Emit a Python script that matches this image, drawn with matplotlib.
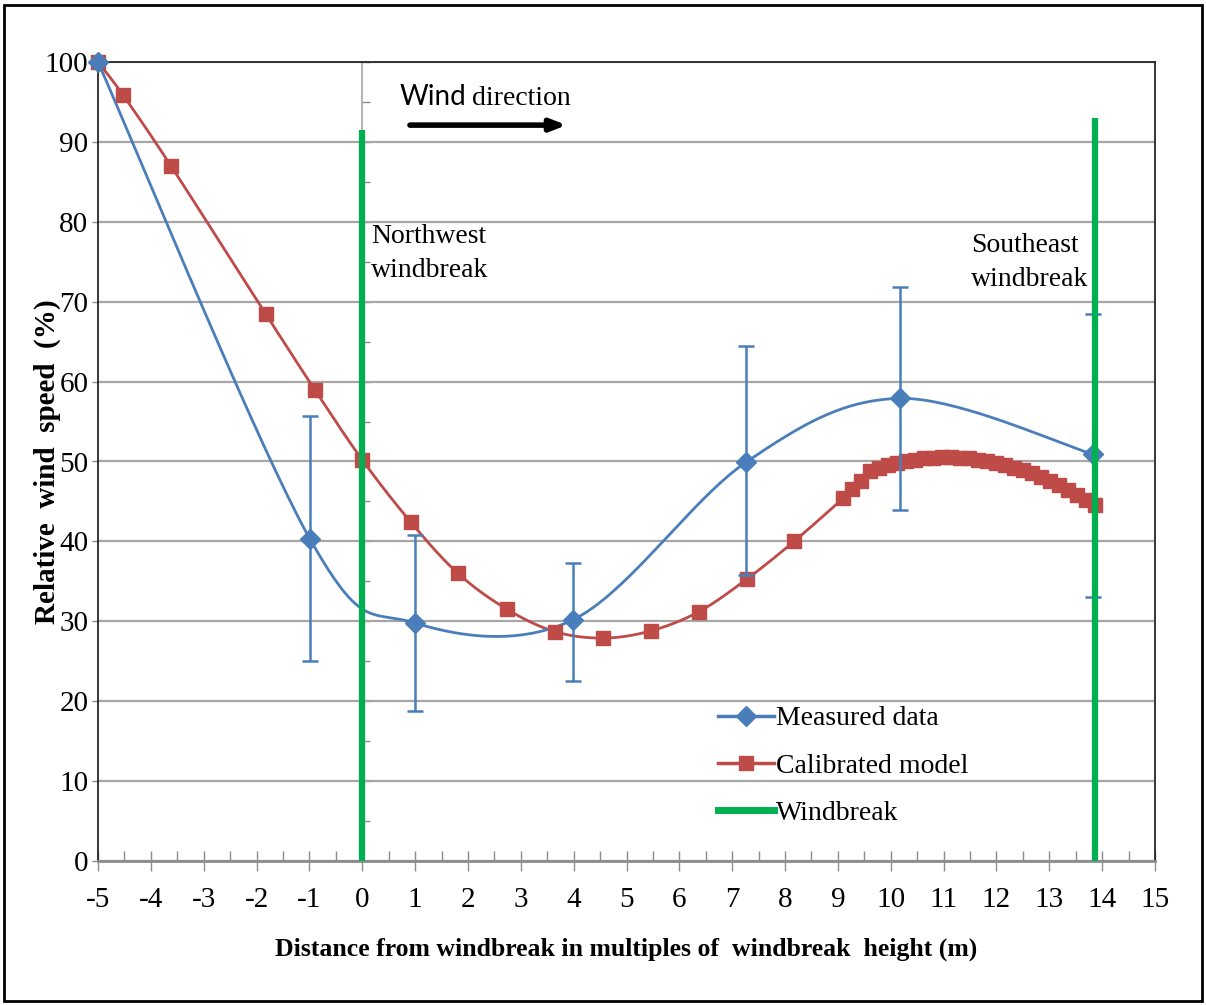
import matplotlib
matplotlib.use('Agg')
import matplotlib.pyplot as plt
import numpy as np
from matplotlib.lines import Line2D
from matplotlib.patches import Rectangle
from matplotlib.ticker import MultipleLocator

# Field measurements (mean relative wind speed with min/max spread)
MEASURED_X = [-5.0, -0.99, 0.99, 3.99, 7.26, 10.17, 13.83]
MEASURED_Y = [100.0, 40.3, 29.8, 30.2, 49.9, 57.9, 50.9]
MEASURED_LOW = [100.0, 25.0, 18.8, 22.5, 35.8, 43.9, 33.0]
MEASURED_HIGH = [100.0, 55.7, 40.8, 37.3, 64.5, 71.8, 68.5]

# Calibrated model output
MODEL_X = [-5.0, -4.53, -3.62, -1.82, -0.89, 0.0, 0.92, 1.81, 2.74, 3.65,
           4.56, 5.46, 6.37, 7.28, 8.17, 9.10, 9.27, 9.44, 9.61, 9.78,
           9.95, 10.12, 10.29, 10.46, 10.63, 10.80, 10.97, 11.14, 11.31, 11.48,
           11.65, 11.82, 11.99, 12.16, 12.33, 12.50, 12.67, 12.84, 13.01, 13.18,
           13.35, 13.52, 13.69, 13.86]
MODEL_Y = [100.0, 95.9, 87.0, 68.4, 58.9, 50.2, 42.4, 36.0, 31.5, 28.7,
           27.9, 28.8, 31.2, 35.3, 40.0, 45.4, 46.5, 47.6, 48.8, 49.2,
           49.5, 49.8, 50.0, 50.2, 50.4, 50.5, 50.6, 50.6, 50.5, 50.4,
           50.2, 50.0, 49.8, 49.5, 49.2, 48.9, 48.5, 48.0, 47.5, 47.0,
           46.4, 45.8, 45.2, 44.6]

# Windbreak positions and drawn heights
WINDBREAK_X = [0.0, 13.86]
WINDBREAK_TOP = [91.5, 93.0]

BLUE = '#4A7EBB'
RED = '#BE4B48'
GREEN = '#00B050'
SERIF = 'Liberation Serif'


def smooth(xs, ys, steps=40):
    # Catmull-Rom style Bezier smoothing, like a spreadsheet "smoothed line"
    p = np.column_stack([xs, ys]).astype(float)
    p = np.vstack([p[0], p, p[-1]])
    t = np.linspace(0, 1, steps)[:, None]
    out = []
    for i in range(1, len(p) - 2):
        p0, p1, p2, p3 = p[i - 1], p[i], p[i + 1], p[i + 2]
        c1 = p1 + (p2 - p0) / 6
        c2 = p2 - (p3 - p1) / 6
        seg = ((1 - t) ** 3 * p1 + 3 * (1 - t) ** 2 * t * c1
               + 3 * (1 - t) * t ** 2 * c2 + t ** 3 * p2)
        out.append(seg if i == 1 else seg[1:])
    out = np.vstack(out)
    return out[:, 0], out[:, 1]


plt.rcParams['axes.unicode_minus'] = False
plt.rcParams['font.family'] = SERIF

fig = plt.figure(figsize=(12.06, 10.05), dpi=100)
ax = fig.add_axes([98 / 1206, 144 / 1005, 1057 / 1206, 799 / 1005])

ax.set_xlim(-5, 15)
ax.set_ylim(0, 100)

ax.yaxis.set_major_locator(MultipleLocator(10))
ax.xaxis.set_major_locator(MultipleLocator(1))
ax.xaxis.set_minor_locator(MultipleLocator(0.5))
ax.grid(axis='y', color='#A6A6A6', linewidth=1.6, zorder=0)
ax.set_axisbelow(True)

for side in ['left', 'top', 'right']:
    ax.spines[side].set_color('#262626')
    ax.spines[side].set_linewidth(1.3)
ax.spines['bottom'].set_color('#8C8C8C')
ax.spines['bottom'].set_linewidth(2)

ax.tick_params(axis='x', which='major', direction='inout', length=14,
               width=1, color='#8C8C8C', labelsize=21, pad=12)
ax.tick_params(axis='x', which='minor', direction='in', length=7,
               width=1, color='#8C8C8C')
ax.tick_params(axis='y', which='major', length=4, width=1, color='#8C8C8C',
               labelsize=21, pad=3)

# vertical axis line crossing at x = 0
sec = ax.secondary_yaxis(0.25)
sec.spines['left'].set_color('#A6A6A6')
sec.spines['left'].set_linewidth(1.2)
sec.yaxis.set_major_locator(MultipleLocator(5))
sec.tick_params(direction='in', length=6, width=1, color='#8C8C8C',
                labelleft=False)

# windbreaks
ax.vlines(WINDBREAK_X, 0, WINDBREAK_TOP, color=GREEN, linewidth=4.5, zorder=5)

# calibrated model
mx, my = smooth(MODEL_X, MODEL_Y)
ax.plot(mx, my, color=RED, linewidth=2, zorder=3)
ax.plot(MODEL_X, MODEL_Y, linestyle='none', marker='s', markersize=10.5,
        color=RED, zorder=4, clip_on=False)

# measured data with spread
sx, sy = smooth(MEASURED_X, MEASURED_Y)
ax.plot(sx, sy, color=BLUE, linewidth=2, zorder=3)
yerr = [np.subtract(MEASURED_Y, MEASURED_LOW),
        np.subtract(MEASURED_HIGH, MEASURED_Y)]
ax.errorbar(MEASURED_X, MEASURED_Y, yerr=yerr, fmt='D', markersize=10,
            color=BLUE, ecolor=BLUE, elinewidth=1.8, capsize=6, capthick=1.8,
            zorder=4.5, clip_on=False)

# annotations
ax.text(0.71, 94.6, 'Wind', fontsize=20, family='Lato', ha='left',
        va='baseline', zorder=6)
ax.text(2.08, 94.6, 'direction', fontsize=20, ha='left', va='baseline',
        zorder=6)
ax.annotate('', xy=(3.92, 92.1), xytext=(0.85, 92.1),
            arrowprops=dict(arrowstyle='-|>,head_length=0.9,head_width=0.35',
                            color='black', linewidth=4))
ax.text(0.17, 76.0, 'Northwest\nwindbreak', fontsize=20, ha='left',
        va='center', linespacing=1.45, zorder=6)
ax.text(11.52, 74.9, 'Southeast\nwindbreak', fontsize=20, ha='left',
        va='center', linespacing=1.45, zorder=6)

ax.set_xlabel('Distance from windbreak in multiples of  windbreak  height (m)',
              fontsize=18.5, fontweight='bold')
ax.xaxis.label.set_va('center')
ax.xaxis.set_label_coords(0.5, -0.111)
ax.set_ylabel('Relative  wind  speed  (%)', fontsize=21, fontweight='bold')
ax.yaxis.label.set_va('center')
ax.yaxis.set_label_coords(-0.048, 0.5)

handles = [
    Line2D([], [], color=BLUE, linewidth=2.5, marker='D', markersize=10),
    Line2D([], [], color=RED, linewidth=2.5, marker='s', markersize=10),
    Line2D([], [], color=GREEN, linewidth=5),
]
ax.legend(handles, ['Measured data', 'Calibrated model', 'Windbreak'],
          loc='upper left', bbox_to_anchor=(718 / 1206, 1 - 706 / 1005),
          bbox_transform=fig.transFigure, frameon=False, fontsize=20,
          handlelength=2.0, handletextpad=0.1, labelspacing=0.78,
          borderpad=0, borderaxespad=0)

fig.patches.append(Rectangle((4 / 1206, 4 / 1005), 1198 / 1206, 996 / 1005,
                             transform=fig.transFigure, fill=False,
                             edgecolor='black', linewidth=2))

fig.savefig('out.png', dpi=100)
